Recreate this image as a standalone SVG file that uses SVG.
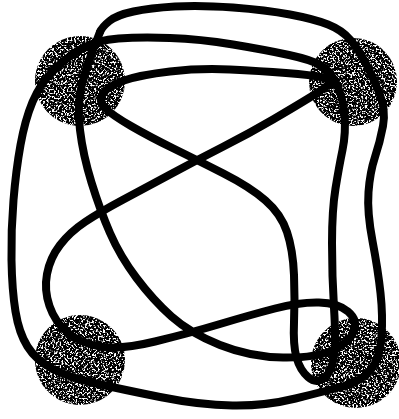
<svg xmlns="http://www.w3.org/2000/svg" width="399" height="419" viewBox="0 0 399 419">
<style>
.pt{fill:#000;filter:url(#stip)}
.ln{fill:none;stroke:#000;stroke-width:8;stroke-linecap:round;stroke-linejoin:round}
</style>
<defs>
<filter id="stip" x="-5%" y="-5%" width="110%" height="110%" color-interpolation-filters="sRGB">
<feTurbulence type="fractalNoise" baseFrequency="0.55" numOctaves="2" seed="7" result="n"/>
<feColorMatrix in="n" type="matrix" values="0 0 0 0 0  0 0 0 0 0  0 0 0 0 0  -10 0 0 0 6.2" result="d"/>
<feComposite in="d" in2="SourceGraphic" operator="in"/>
</filter>
</defs>
<rect width="399" height="419" fill="#fff"/>
<g id="puncture-top-left"><circle class="pt" cx="80" cy="81" r="45"/></g>
<g id="puncture-top-right"><circle class="pt" cx="353" cy="82" r="44"/></g>
<g id="puncture-bottom-left"><circle class="pt" cx="80" cy="360" r="45"/></g>
<g id="puncture-bottom-right"><circle class="pt" cx="356" cy="363" r="45"/></g>
<g id="connectors" class="ln">
<path d="M 100,32 Q 98,37 92,52.5 Q 86,68 81.5,86.5 Q 77,105 80,130 Q 83,155 91.5,182.5 Q 100,210 110,233 Q 120,256 136.5,278 Q 153,300 171.5,316.5 Q 190,333 220,345 Q 250,357 283,357.5 Q 316,358 333,350 Q 350,342 354,331 Q 358,320 348,311.5 Q 338,303 319,302.5 Q 300,302 275,308.5 Q 250,315 220,324 Q 190,333 155,341.5 Q 120,350 100,346.5"/>
<path d="M 100,346.5 Q 80,343 67.5,332.5 Q 55,322 49.5,306 Q 44,290 47,274 Q 50,258 60,245 Q 70,232 85,222 Q 100,212 122.5,200 Q 145,188 171,174 Q 197,160 223.5,146.5 Q 250,133 273,119.5 Q 296,106 309,98 Q 322,90 328,85 Q 334,80 323,77.5"/>
<path d="M 323,77.5 Q 312,75 286,73 Q 260,71 230,69.5 Q 200,68 170,71.5 Q 140,75 124,80.5 Q 108,86 103,93.5 Q 98,101 105,108 Q 112,115 131,126 Q 150,137 173.5,148.5 Q 197,160 223.5,173.5 Q 250,187 265.5,200.5 Q 281,214 287,232 Q 293,250 294,275 Q 295,300 294,322.5 Q 293,345 296.5,357.5 Q 300,370 308,377 Q 316,384 324,378"/>
<path d="M 324,378 Q 332,372 334,356 Q 336,340 334,308 Q 332,276 332,243 Q 332,210 335.5,188.5 Q 339,167 342.5,150 Q 346,133 344.5,115 Q 343,97 336.5,84 Q 330,71 321,65.5 Q 312,60 289,55 Q 266,50 233,44.5 Q 200,39 170,38 Q 140,37 118.5,38.5 Q 97,40 82,48.5"/>
<path d="M 82,48.5 Q 67,57 53.5,70.5 Q 40,84 32.5,102 Q 25,120 20.5,145 Q 16,170 13.5,200 Q 11,230 11.5,260 Q 12,290 15.5,311.5 Q 19,333 27.5,346.5 Q 36,360 52,368.5 Q 68,377 94,383 Q 120,389 160,397 Q 200,405 232.5,405.5 Q 265,406 295.5,398.5 Q 326,391 344,386 Q 362,381 371,369.5"/>
<path d="M 371,369.5 Q 380,358 381.5,337 Q 383,316 380.5,293 Q 378,270 372.5,241 Q 367,212 368.5,192 Q 370,172 375,157 Q 380,142 383,126 Q 386,110 379.5,93.5 Q 373,77 366,63.5 Q 359,50 350.5,40 Q 342,30 328,24.5 Q 314,19 290,14.5 Q 266,10 233,7.5 Q 200,5 175,6.5 Q 150,8 133.5,11.5 Q 117,15 109.5,21 Q 102,27 100,32"/>
</g>
</svg>
